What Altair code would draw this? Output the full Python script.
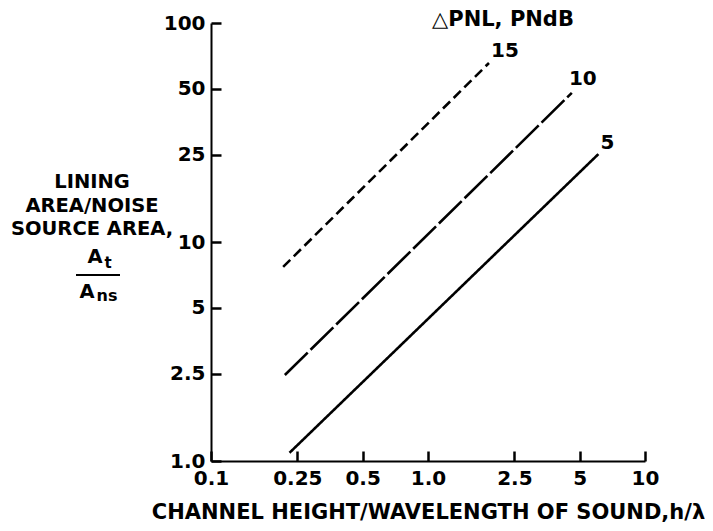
import altair as alt
import pandas as pd

# ---- data ----
x_ticks = [0.1, 0.25, 0.5, 1.0, 2.5, 5, 10]
x_tick_labels = ["0.1", "0.25", "0.5", "1.0", "2.5", "5", "10"]
y_ticks = [1.0, 2.5, 5, 10, 25, 50, 100]
y_tick_labels = ["1.0", "2.5", "5", "10", "25", "50", "100"]

series = ["5", "10", "15"]          # delta PNL, PNdB
x_start = [0.23, 0.219, 0.215]
x_end = [6.1, 4.6, 1.91]
y_start = [1.09, 2.47, 7.7]
y_end = [25.2, 48.0, 65.7]

# ---- tables ----
rows = []
for s, x0, x1, y0, y1 in zip(series, x_start, x_end, y_start, y_end):
    rows.append({"series": s, "h": x0, "A": y0, "order": 0})
    rows.append({"series": s, "h": x1, "A": y1, "order": 1})
df = pd.DataFrame(rows)
ends = pd.DataFrame({"series": series, "h": x_end, "A": y_end})


def label_expr(vals, labs):
    expr = "datum.label"
    for v, l in reversed(list(zip(vals, labs))):
        expr = f"abs(datum.value - {v}) < 1e-9 ? '{l}' : ({expr})"
    return expr


FONT = "DejaVu Sans"
W, H = 434, 438
TICK = 10  # inward tick length (negative tick size draws ticks inside)

xscale = alt.Scale(type="log", domain=[x_ticks[0], x_ticks[-1]], nice=False)
yscale = alt.Scale(type="log", domain=[y_ticks[0], y_ticks[-1]], nice=False)

xaxis = alt.Axis(
    values=x_ticks, labelExpr=label_expr(x_ticks, x_tick_labels),
    ticks=True, tickSize=alt.ExprRef(f"-{TICK}"), tickColor="black", tickWidth=2.5,
    grid=False, domainColor="black", domainWidth=2,
    labelFont=FONT, labelFontWeight="bold", labelFontSize=20, labelColor="black",
    labelPadding=7 + TICK, labelFlush=False, labelOverlap=False,
    title="CHANNEL HEIGHT/WAVELENGTH OF SOUND,h/λ",
    titleFont=FONT, titleFontWeight="bold", titleFontSize=21, titleColor="black",
    titlePadding=13,
)
yaxis = alt.Axis(
    values=y_ticks, labelExpr=label_expr(y_ticks, y_tick_labels),
    ticks=True, tickSize=alt.ExprRef(f"-{TICK}"), tickColor="black", tickWidth=2.5,
    grid=False, domainColor="black", domainWidth=2,
    labelFont=FONT, labelFontWeight="bold", labelFontSize=20, labelColor="black",
    labelPadding=6 + TICK, labelFlush=False, labelOverlap=False, title=None,
)

lines = alt.Chart(df).mark_line(color="black", strokeWidth=2.6).encode(
    x=alt.X("h:Q", scale=xscale, axis=xaxis),
    y=alt.Y("A:Q", scale=yscale, axis=yaxis),
    strokeDash=alt.StrokeDash(
        "series:N",
        scale=alt.Scale(domain=series, range=[[1, 0], [32, 4], [10, 5]]),
        legend=None,
    ),
    detail="series:N",
    order="order:Q",
)

# curve labels at line ends
label_offsets = {"5": (9, -11), "10": (11, -14), "15": (16, -12)}
curve_labels = []
for s in series:
    dx, dy = label_offsets[s]
    curve_labels.append(
        alt.Chart(ends[ends["series"] == s]).mark_text(
            font=FONT, fontWeight="bold", fontSize=20, color="black",
            dx=dx, dy=dy, align="center", baseline="middle",
        ).encode(x=alt.X("h:Q", scale=xscale), y=alt.Y("A:Q", scale=yscale), text="series:N")
    )


def txt(text, x, y, size=19.5, align="center", weight="bold"):
    return alt.Chart(pd.DataFrame({"t": [text]})).mark_text(
        font=FONT, fontWeight=weight, fontSize=size, color="black",
        align=align, baseline="middle",
    ).encode(x=alt.value(x), y=alt.value(y), text="t:N")


annotations = [
    txt("△PNL, PNdB", 292, -3, size=21),
    txt("LINING", -119, 159),
    txt("AREA/NOISE", -119, 183),
    txt("SOURCE AREA,", -119, 206),
    txt("A", -116, 234),
    txt("t", -103, 240, size=15),
    txt("A", -124, 269),
    txt("ns", -104, 273, size=16),
]
frac = alt.Chart(pd.DataFrame({"k": [0]})).mark_rule(color="black", strokeWidth=2).encode(
    x=alt.value(-135), x2=alt.value(-91), y=alt.value(252)
)

chart = alt.layer(lines, *curve_labels, *annotations, frac).properties(
    width=W, height=H,
    autosize=alt.AutoSizeParams(type="none"),
    padding={"left": 203, "top": 15, "right": 60, "bottom": 62},
    background="white",
).configure_view(strokeWidth=0)

chart.save("out.html", embed_options={"renderer": "svg", "actions": False})
